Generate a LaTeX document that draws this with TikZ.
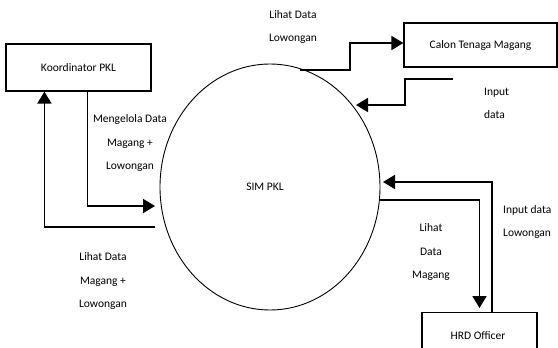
\documentclass[tikz,border=0pt]{standalone}
\usepackage{fontspec}
\setmainfont{Carlito}
\usetikzlibrary{arrows.meta,calc,shapes.geometric}
\begin{document}
\begin{tikzpicture}[x=1pt,y=-1pt,
  every node/.style={font=\fontsize{11.5}{23.5}\selectfont},
  entity/.style={draw,line width=1.2pt,inner sep=0pt},
  flow/.style={line width=1.8pt,-{Triangle[length=12pt,width=14pt]}},
  lbl/.style={align=center,inner sep=0pt},
  lbll/.style={align=left,inner sep=0pt}]
\useasboundingbox (0,0) rectangle (558,348);
\clip (0,0) rectangle (558,348);

% external entities
\node[entity,minimum width=145pt,minimum height=47pt] (koord) at (78.5,67.5) {Koordinator PKL};
\node[entity,minimum width=153pt,minimum height=44pt] (calon) at (480.5,45) {Calon Tenaga Magang};
\node[entity,minimum width=115pt,minimum height=60pt,anchor=north] (hrd) at (479.5,312) {};
\node[inner sep=0pt] (hrdtext) at (478,336) {HRD Officer};

% the process
\node[draw,ellipse,line width=0.9pt,minimum width=220pt,minimum height=246pt,inner sep=0pt] (sim) at (270,187) {};
\node[inner sep=0pt] (simtext) at (265,187) {SIM PKL};

% connector ends on the process boundary
\coordinate (simW1) at (155,206);
\coordinate (simW2) at (155,227);
\coordinate (simN)  at (300,70);
\coordinate (simNE) at (356,105);
\coordinate (simE1) at (383,182);
\coordinate (simE2) at (380,200);
\coordinate (inStart) at (453,79);

% data flows
\draw[flow] ([xshift=82pt]koord.south west) |- (simW1);
\draw[flow] (simW2) -| ([xshift=39pt]koord.south west);
\draw[flow] (simN) -- ++(50,0) |- ([yshift=2pt]calon.west);
\draw[flow] (inStart) -- ++(-48,0) |- (simNE);
\draw[flow] ([xshift=12.5pt]hrd.north) |- (simE1);
\draw[flow,shorten >=4pt] (simE2) -| (hrd.north);

% flow labels
\node[lbl] (l1) at (130,143) {Mengelola Data\\Magang +\\Lowongan};
\node[lbl] (l2) at (103,281) {Lihat Data\\Magang +\\Lowongan};
\node[lbl] (l3) at (293,27) {Lihat Data\\Lowongan};
\node[lbll,anchor=west] (l4) at (484,103.5) {Input\\data};
\node[lbll,anchor=west] (l5) at (503,222) {Input data\\Lowongan};
\node[lbl] (l6) at (431,252) {Lihat\\Data\\Magang};
\end{tikzpicture}
\end{document}
